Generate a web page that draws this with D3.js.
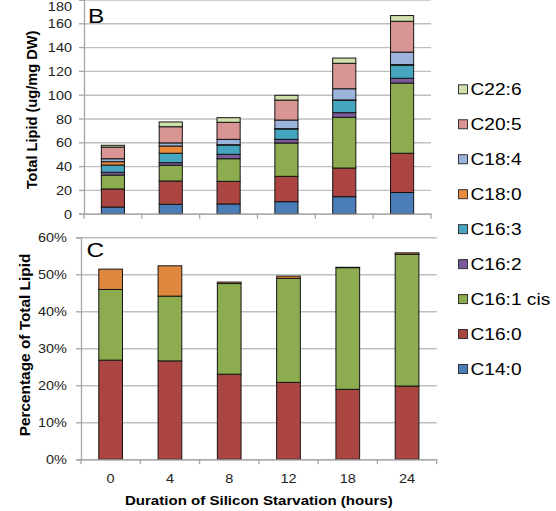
<!DOCTYPE html>
<html>
<head>
<meta charset="utf-8">
<script src="https://cdn.jsdelivr.net/npm/d3@7/dist/d3.min.js"></script>
<style>
  html, body { margin: 0; padding: 0; background: #fff; }
  svg { display: block; font-family: "Liberation Sans", Arial, sans-serif; }
</style>
</head>
<body>
<script>
// Hours of silicon starvation
const categories = ["0", "4", "8", "12", "18", "24"];

// Fatty acid series, stacked bottom to top
const seriesNames = ["C14:0", "C16:0", "C16:1 cis", "C16:2", "C16:3", "C18:0", "C18:4", "C20:5", "C22:6"];
const seriesColors = ["#4a7ebb", "#ab4542", "#8cac4f", "#7a5c9c", "#46a5bf", "#ec8a3c", "#9cb3dc", "#d99594", "#cfe0ab"];

// Panel B: total lipid (ug/mg DW)
const c14_0 = [5.6, 7.9, 8.2, 10.1, 14.3, 17.8];
const c16_0 = [15.2, 19.6, 19.0, 21.3, 24.1, 33.0];
const c16_1 = [11.7, 13.2, 19.0, 28.0, 42.6, 59.0];
const c16_2 = [2.3, 2.2, 3.7, 3.1, 3.9, 4.0];
const c16_3 = [6.1, 7.9, 7.8, 8.7, 10.4, 11.0];
const c18_0 = [2.8, 6.1, 0.3, 0.3, 0.3, 0.5];
const c18_4 = [2.5, 2.6, 4.5, 7.2, 9.4, 10.5];
const c20_5 = [9.8, 13.6, 14.3, 16.8, 21.4, 25.9];
const c22_6 = [1.5, 4.0, 3.9, 4.0, 4.4, 4.8];
const topTicks = [0, 20, 40, 60, 80, 100, 120, 140, 160, 180];

// Panel C: percentage of total lipid
const pctC16_0 = [26.8, 26.6, 23.0, 20.8, 18.9, 19.8];
const pctC16_1 = [19.1, 17.5, 24.5, 28.1, 32.9, 35.6];
const pctC18_0 = [5.5, 8.2, 0.4, 0.6, 0.1, 0.4];
const bottomTicks = [0, 10, 20, 30, 40, 50, 60];

const SX = 1.16;          // horizontal text stretch
const GRID = "#bfbfbf";
const AXIS = "#a6a6a6";

const svg = d3.select("body").append("svg").attr("width", 556).attr("height", 511);

function hText(parent, x, y, str, size, anchor, weight) {
  return parent.append("text")
    .attr("transform", `translate(${x},${y}) scale(${SX},1)`)
    .attr("text-anchor", anchor || "start")
    .attr("font-size", size)
    .attr("font-weight", weight || "normal")
    .attr("fill", "#000")
    .text(str);
}

function drawPanel(cfg) {
  const g = svg.append("g");
  const x = d3.scaleBand().domain(categories).range([cfg.x0, cfg.x1])
    .paddingInner(0.6).paddingOuter(0.3);
  const y = cfg.y;
  const w = cfg.x1 - cfg.x0;

  // gridlines
  g.append("g").attr("transform", `translate(${cfg.x0},0)`)
    .call(d3.axisLeft(y).tickValues(cfg.ticks).tickSize(-w).tickFormat(""))
    .call(s => s.select(".domain").remove())
    .call(s => s.selectAll("line").attr("stroke", GRID).attr("stroke-width", 1.4));

  // y axis with labels
  const ya = g.append("g").attr("transform", `translate(${cfg.x0},0)`)
    .call(d3.axisLeft(y).tickValues(cfg.ticks).tickSize(5).tickFormat(cfg.fmt));
  ya.select(".domain").attr("stroke", AXIS).attr("stroke-width", 1.3);
  ya.selectAll("line").attr("stroke", AXIS).attr("stroke-width", 1.3);
  ya.selectAll("text")
    .attr("x", null).attr("dy", "0.36em")
    .attr("transform", d => {
      // keep a label that would sit above the frame inside it
      const shift = Math.max(0, 5.5 - y(d));
      return `translate(${cfg.labelOff},${shift}) scale(${SX},1)`;
    })
    .attr("font-size", 12.5).attr("fill", "#222")
    .attr("font-family", "'Liberation Sans', Arial, sans-serif");

  // stacked bars
  const rows = categories.map((c, i) => {
    const r = { cat: c };
    cfg.series.forEach(s => { r[s.name] = s.values[i]; });
    return r;
  });
  const stack = d3.stack().keys(cfg.series.map(s => s.name))(rows);
  stack.forEach((layer, li) => {
    g.append("g").attr("fill", cfg.series[li].color)
      .selectAll("rect").data(layer).join("rect")
      .attr("x", d => x(d.data.cat))
      .attr("width", x.bandwidth())
      .attr("y", d => y(d[1]))
      .attr("height", d => y(d[0]) - y(d[1]))
      .attr("stroke", "#151515").attr("stroke-width", 1);
  });

  // x axis line and category boundary ticks
  const y0 = y(0);
  const bounds = categories.map(c => x(c) - x.step() * x.paddingOuter()).concat([cfg.x1]);
  const xa = g.append("g").attr("transform", `translate(0,${y0})`)
    .call(d3.axisBottom(x).tickSize(0).tickFormat(cfg.showX ? (d => d) : ""));
  xa.select(".domain").attr("stroke", AXIS).attr("stroke-width", 1.3);
  xa.selectAll("text")
    .attr("y", null).attr("dy", null)
    .attr("transform", `translate(0,24) scale(${SX},1)`)
    .attr("font-size", 12.5).attr("fill", "#222")
    .attr("font-family", "'Liberation Sans', Arial, sans-serif");
  xa.selectAll(".bound").data(bounds).join("line").attr("class", "bound")
    .attr("x1", d => d).attr("x2", d => d).attr("y1", 0).attr("y2", 5)
    .attr("stroke", AXIS).attr("stroke-width", 1.3);

  return g;
}

// Panel B
const yTop = d3.scaleLinear().domain([0, 180]).range([213.7, -0.5]);
drawPanel({
  x0: 84, x1: 431, y: yTop, ticks: topTicks, fmt: d3.format("d"), labelOff: -12, showX: false,
  series: [c14_0, c16_0, c16_1, c16_2, c16_3, c18_0, c18_4, c20_5, c22_6]
    .map((v, i) => ({ name: seriesNames[i], values: v, color: seriesColors[i] }))
});

// Panel C
const yBot = d3.scaleLinear().domain([0, 60]).range([459.3, 237.3]);
drawPanel({
  x0: 81, x1: 436.7, y: yBot, ticks: bottomTicks, fmt: d => d + "%", labelOff: -14, showX: true,
  series: [
    { name: "C16:0", values: pctC16_0, color: seriesColors[1] },
    { name: "C16:1 cis", values: pctC16_1, color: seriesColors[2] },
    { name: "C18:0", values: pctC18_0, color: "#e0873f" }
  ]
});

// Panel letters
hText(svg, 88, 23, "B", 21);
hText(svg, 86.5, 256.5, "C", 21);

// Axis titles
svg.append("text")
  .attr("transform", "translate(36.5,110) rotate(-90)")
  .attr("text-anchor", "middle").attr("font-size", 14.6).attr("font-weight", "bold")
  .text("Total Lipid (ug/mg DW)");
svg.append("text")
  .attr("transform", "translate(29.5,345) rotate(-90)")
  .attr("text-anchor", "middle").attr("font-size", 15.4).attr("font-weight", "bold")
  .text("Percentage of Total Lipid");
hText(svg, 258.8, 505, "Duration of Silicon Starvation (hours)", 13, "middle", "bold");

// Legend, listed top series first
const legendY = d3.scalePoint().domain(seriesNames.slice().reverse()).range([89.3, 369]);
const lg = svg.append("g");
seriesNames.forEach((name, i) => {
  const cy = legendY(name);
  lg.append("rect")
    .attr("x", 458.5).attr("y", cy - 4.5).attr("width", 9).attr("height", 9)
    .attr("fill", seriesColors[i]).attr("stroke", "#333").attr("stroke-width", 1);
  hText(lg, 470.5, cy + 6, name, 16.5, "start");
});
</script>
</body>
</html>
